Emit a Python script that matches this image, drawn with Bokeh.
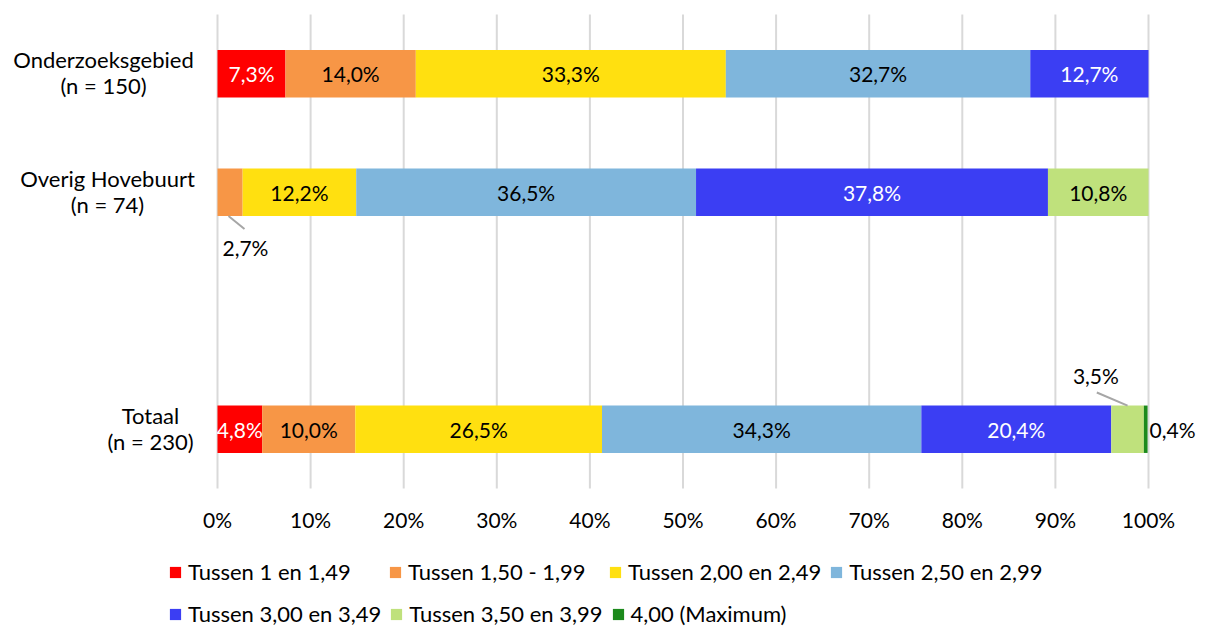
from bokeh.plotting import figure
from bokeh.models import ColumnDataSource, FixedTicker, Legend, LegendItem, Range1d, LinearAxis
from bokeh.core.properties import value
from bokeh.embed import file_html
from bokeh.resources import INLINE

# ---------------- data ----------------
categories = ["Onderzoeksgebied\n(n = 150)", "Overig Hovebuurt\n(n = 74)", "Totaal\n(n = 230)"]
cat_pos = [3, 2, 0]
series_names = ["Tussen 1 en 1,49", "Tussen 1,50 - 1,99", "Tussen 2,00 en 2,49",
                "Tussen 2,50 en 2,99", "Tussen 3,00 en 3,49", "Tussen 3,50 en 3,99",
                "4,00 (Maximum)"]
s1 = [7.3, 0.0, 4.8]
s2 = [14.0, 2.7, 10.0]
s3 = [33.3, 12.2, 26.5]
s4 = [32.7, 36.5, 34.3]
s5 = [12.7, 37.8, 20.4]
s6 = [0.0, 10.8, 3.5]
s7 = [0.0, 0.0, 0.4]
x_ticks = [0, 10, 20, 30, 40, 50, 60, 70, 80, 90, 100]

colors = ["#FF0000", "#F79646", "#FFE010", "#7FB6DC", "#3B3EF3", "#BFE17C", "#1C8A1C"]
label_colors = ["white", "black", "black", "black", "white", "black", "black"]
FONT = "Lato"
NUM_SIZE = "21px"
TXT_SIZE = "22px"

# ---------------- layout (pixels) ----------------
W, H = 1206, 628
FX0, FX1 = 217, 1148      # pixel of 0% and 100%
FY_TOP, FY_BOT = 14, 488  # pixel of plot-area top / bottom
Y_TOP, Y_BOT = 3.5, -0.5  # data value at plot-area top / bottom
px_x = (FX1 - FX0) / 100.0
px_y = (FY_BOT - FY_TOP) / (Y_TOP - Y_BOT)
x_range = Range1d(-FX0 / px_x, 100 + (W - FX1) / px_x)
y_range = Range1d(Y_BOT - (H - FY_BOT) / px_y, Y_TOP + FY_TOP / px_y)

series = [s1, s2, s3, s4, s5, s6, s7]
keys = [f"s{i+1}" for i in range(len(series))]
data = {"y": cat_pos}
for k, s in zip(keys, series):
    data[k] = s
src = ColumnDataSource(data)

p = figure(width=W, height=H, x_range=x_range, y_range=y_range,
           output_backend="svg", toolbar_location=None,
           x_axis_location=None, y_axis_location=None,
           min_border=0, min_border_left=0, min_border_right=0,
           min_border_top=0, min_border_bottom=0)
p.outline_line_color = None
p.background_fill_color = "white"
p.xgrid.visible = False
p.ygrid.visible = False

# vertical grid lines spanning the plot area only
p.segment(x0=x_ticks, y0=[Y_BOT] * len(x_ticks), x1=x_ticks, y1=[Y_TOP] * len(x_ticks),
          line_color="#D9D9D9", line_width=2)

BAR_H = 0.40
renderers = p.hbar_stack(keys, y="y", height=BAR_H, color=colors, source=src, line_color=None)

# x axis, fixed at the bottom of the plot area
xaxis = LinearAxis(fixed_location=Y_BOT, ticker=FixedTicker(ticks=x_ticks))
xaxis.major_label_overrides = {t: f"{t}%" for t in x_ticks}
xaxis.axis_line_color = None
xaxis.major_tick_line_color = None
xaxis.minor_tick_line_color = None
xaxis.major_label_standoff = 12
xaxis.major_label_text_font = FONT
xaxis.major_label_text_font_size = NUM_SIZE
xaxis.major_label_text_color = "black"
p.add_layout(xaxis, "below")

# category labels (centred lines, block right edge 24px left of 0%)
cat_x_offsets = [-114, -110, -67]
p.text(x=[0] * len(cat_pos), y=cat_pos, text=categories, x_offset=cat_x_offsets, y_offset=-1,
       text_align="center", text_baseline="middle", text_line_height=0.96,
       text_font=value(FONT), text_font_size=TXT_SIZE, text_color="black")

# in-bar labels
fmt = lambda v: f"{v:.1f}%".replace(".", ",")
callouts = {(1, 1), (2, 5), (2, 6)}  # (category index, series index)
lx, ly, lt, lc = [], [], [], []
cum = [0.0] * len(cat_pos)
centers = {}
for si, s in enumerate(series):
    for ci, v in enumerate(s):
        centers[(ci, si)] = cum[ci] + v / 2
        if v > 0 and (ci, si) not in callouts:
            lx.append(cum[ci] + v / 2)
            ly.append(cat_pos[ci])
            lt.append(fmt(v))
            lc.append(label_colors[si])
        cum[ci] += v
p.text(x=lx, y=ly, text=lt, text_color=lc, text_align="center", text_baseline="middle",
       text_font=value(FONT), text_font_size=NUM_SIZE)

# callout labels with leader lines
c = centers[(1, 1)]
yb = cat_pos[1] - BAR_H / 2
p.segment(x0=[c - 0.17], y0=[yb], x1=[c + 1.55], y1=[yb - 0.11], line_color="#A6A6A6", line_width=2)
p.text(x=[c + 1.65], y=[yb - 0.27], text=[fmt(s2[1])], text_align="center", text_baseline="middle",
       text_font=value(FONT), text_font_size=NUM_SIZE, text_color="black")
c = centers[(2, 5)]
yt = cat_pos[2] + BAR_H / 2
p.segment(x0=[c], y0=[yt], x1=[c - 3.3], y1=[yt + 0.11], line_color="#A6A6A6", line_width=2)
p.text(x=[c - 3.4], y=[yt + 0.25], text=[fmt(s6[2])], text_align="center", text_baseline="middle",
       text_font=value(FONT), text_font_size=NUM_SIZE, text_color="black")
p.text(x=[cum[2]], y=[cat_pos[2]], text=[fmt(s7[2])], text_align="left", text_baseline="middle",
       x_offset=2, text_font=value(FONT), text_font_size=NUM_SIZE, text_color="black")

# legends (two rows)
def make_legend(idx, loc):
    return Legend(items=[LegendItem(label=series_names[i], renderers=[renderers[i]]) for i in idx],
                  orientation="horizontal", location=loc,
                  glyph_width=14, glyph_height=14, label_standoff=6, spacing=8,
                  label_width=192, label_height=22, padding=0, margin=0,
                  border_line_color=None, background_fill_alpha=0,
                  label_text_font=FONT, label_text_font_size=TXT_SIZE, label_text_color="black")

p.add_layout(make_legend([0, 1, 2, 3], (168, 43)))
p.add_layout(make_legend([4, 5, 6], (168, 1)))

open("out.html", "w").write(file_html(p, INLINE))
